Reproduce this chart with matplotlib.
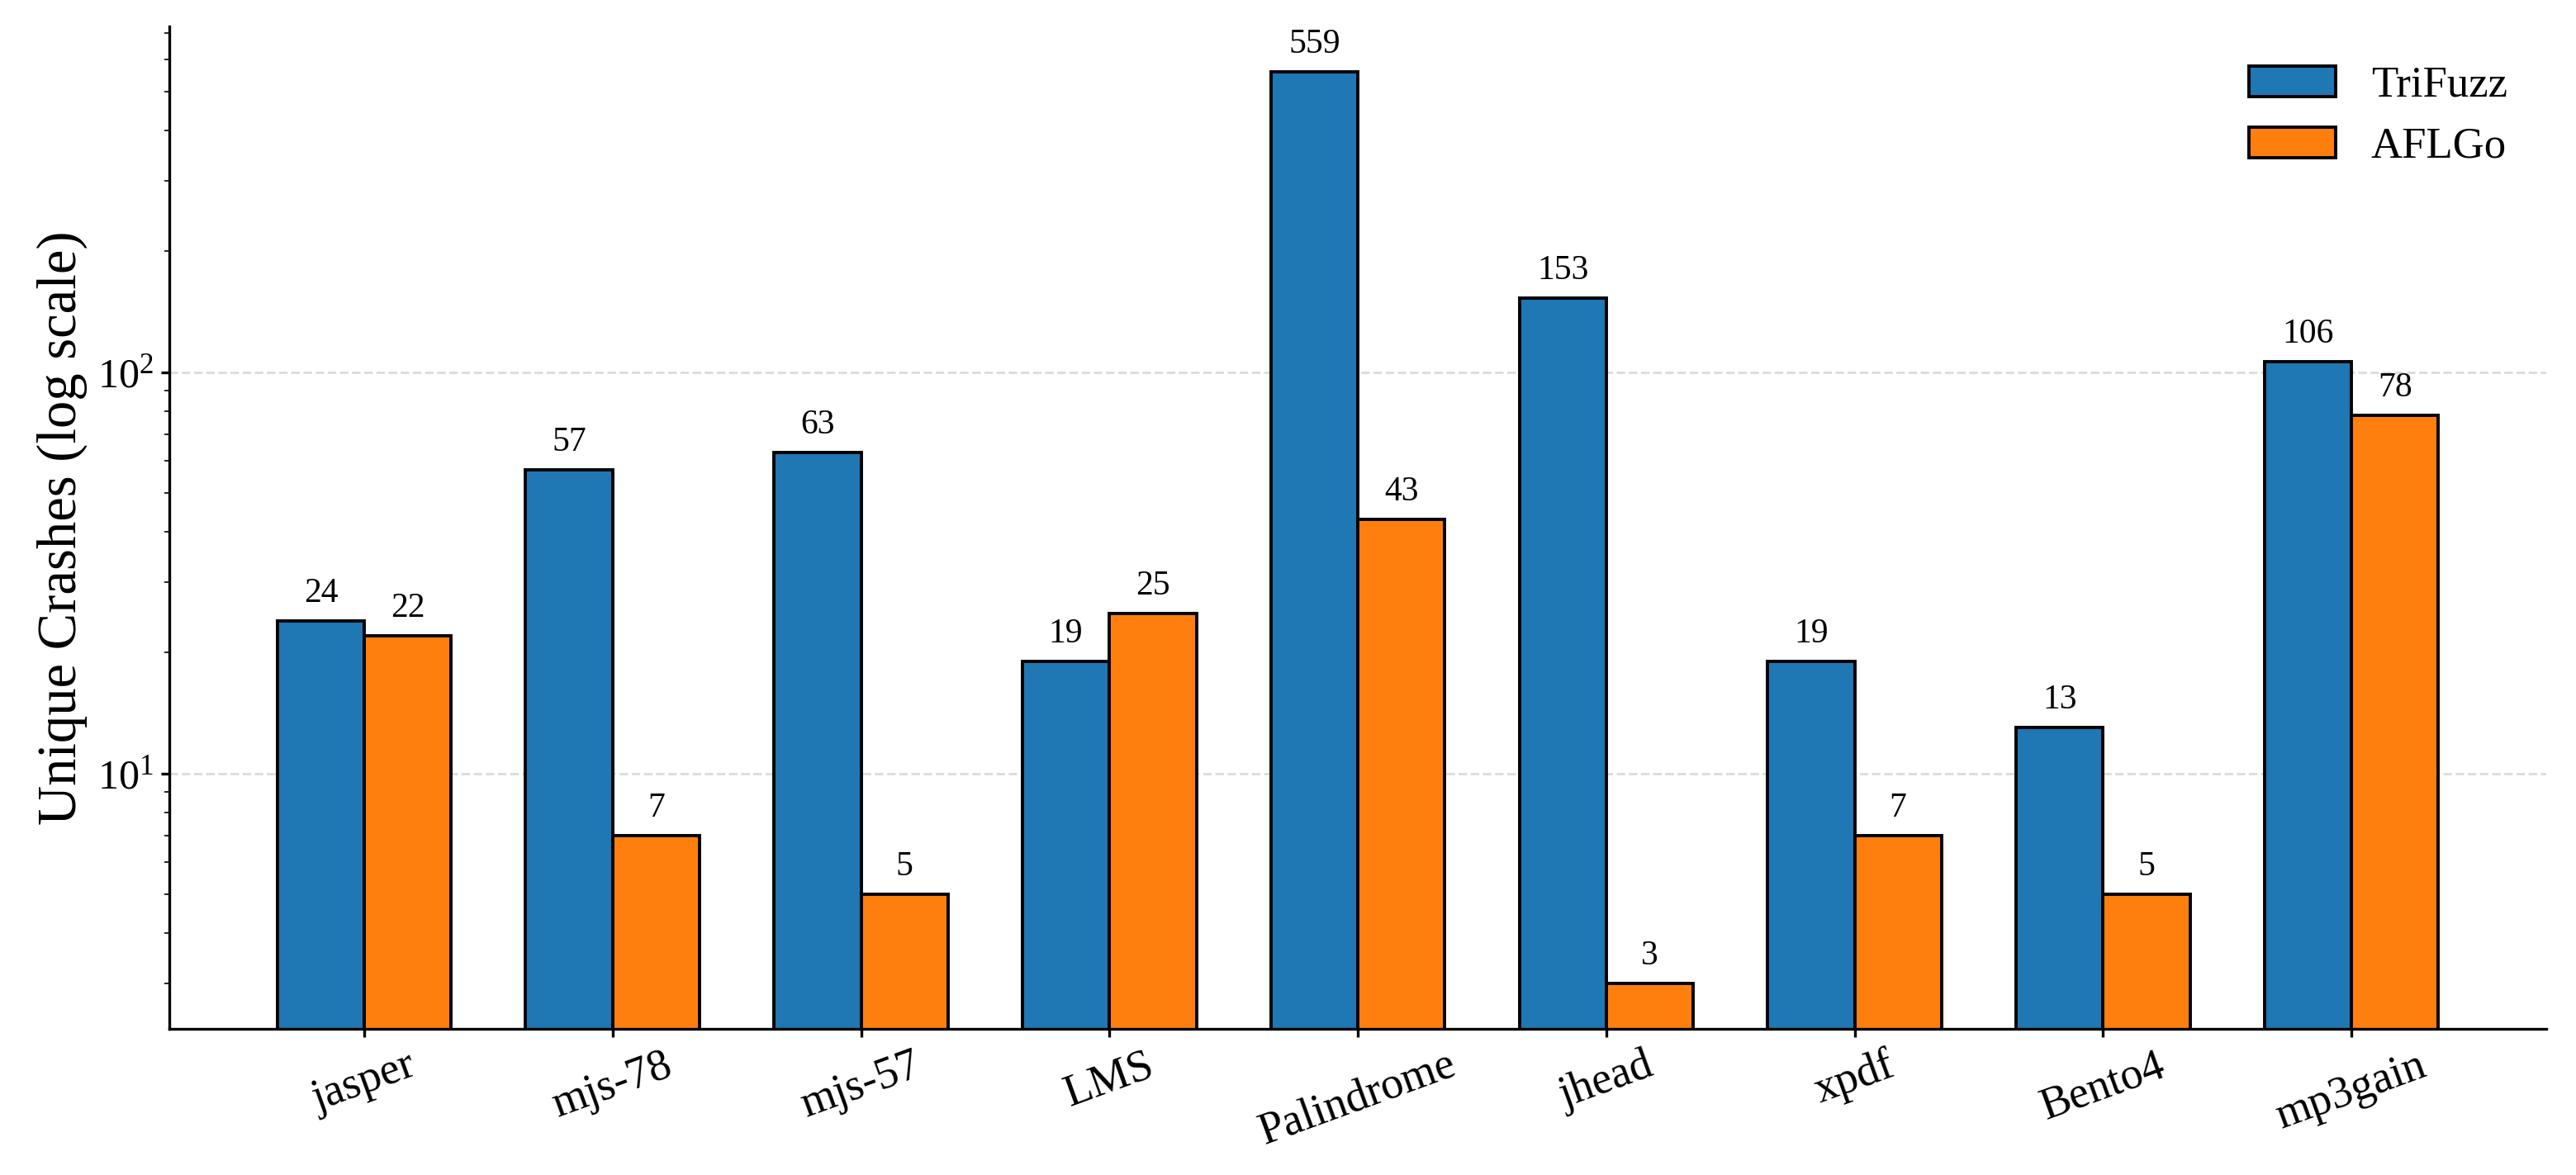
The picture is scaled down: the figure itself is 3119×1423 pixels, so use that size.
import numpy as np
import matplotlib
matplotlib.use("Agg")
import matplotlib.pyplot as plt

plt.rcParams['font.family'] = ['Liberation Serif', 'DejaVu Serif']
plt.rcParams['mathtext.fontset'] = 'stix'

# data
targets = ["jasper", "mjs-78", "mjs-57", "LMS", "Palindrome",
           "jhead", "xpdf", "Bento4", "mp3gain"]
trifuzz = [24, 57, 63, 19, 559, 153, 19, 13, 106]
aflgo = [22, 7, 5, 25, 43, 3, 7, 5, 78]

x = np.arange(len(targets))
width = 0.35

fig = plt.figure(figsize=(15.595, 7.115), dpi=200)
ax = fig.add_axes([0.0657, 0.1244, 0.9228, 0.8531])

b1 = ax.bar(x - width / 2, trifuzz, width, label="TriFuzz",
            color="#1f77b4", edgecolor="black", linewidth=1.4)
b2 = ax.bar(x + width / 2, aflgo, width, label="AFLGo",
            color="#ff7f0e", edgecolor="black", linewidth=1.4)

ax.set_yscale("log")

# value labels above each bar
for bars in (b1, b2):
    for rect in bars:
        h = rect.get_height()
        ax.annotate(f"{int(h)}", xy=(rect.get_x() + rect.get_width() / 2, h),
                    xytext=(0, 5), textcoords="offset points",
                    ha="center", va="bottom", fontsize=15)

ax.set_ylabel("Unique Crashes (log scale)", fontsize=24)
ax.set_xticks(x)
ax.set_xticklabels(targets, rotation=20, fontsize=19.5)
ax.tick_params(axis="y", labelsize=18)
ax.tick_params(axis="both", width=1.2)

ax.grid(axis="y", which="major", linestyle="--", color="#cccccc",
        linewidth=1.0, alpha=0.7)
ax.set_axisbelow(True)

for side in ("top", "right"):
    ax.spines[side].set_visible(False)
for side in ("left", "bottom"):
    ax.spines[side].set_linewidth(1.2)

ax.legend(fontsize=19, frameon=False, loc="upper right")

fig.savefig("out.png", dpi=200)
